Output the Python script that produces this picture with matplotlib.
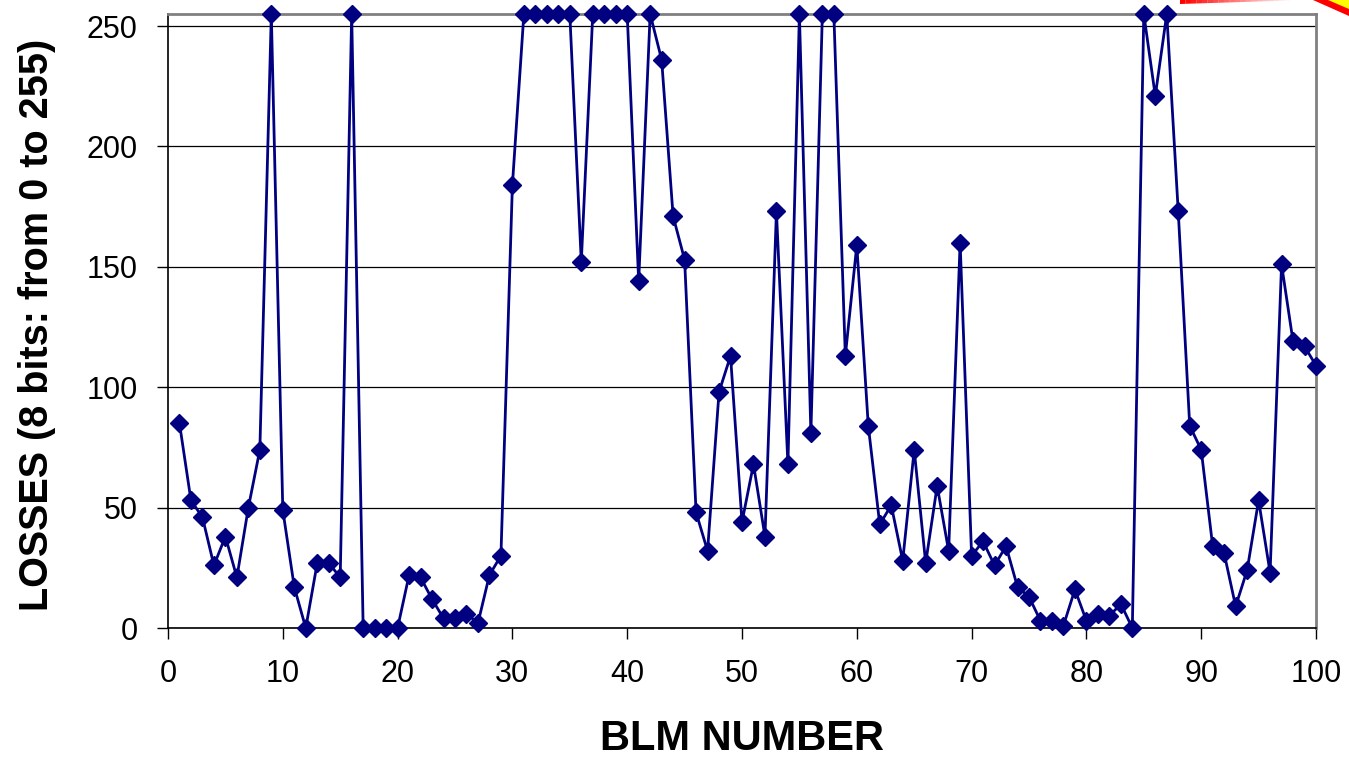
import matplotlib
matplotlib.use("Agg")
import matplotlib.pyplot as plt
import numpy as np
from matplotlib.patches import Polygon

blm_number = list(range(1, 101))
losses = [
    85, 53, 46, 26, 38, 21, 50, 74, 255, 49,
    17, 0, 27, 27, 21, 255, 0, 0, 0, 0,
    22, 21, 12, 4, 4, 6, 2, 22, 30, 184,
    255, 255, 255, 255, 255, 152, 255, 255, 255, 255,
    144, 255, 236, 171, 153, 48, 32, 98, 113, 44,
    68, 38, 173, 68, 255, 81, 255, 255, 113, 159,
    84, 43, 51, 28, 74, 27, 59, 32, 160, 30,
    36, 26, 34, 17, 13, 3, 3, 1, 16, 3,
    6, 5, 10, 0, 255, 221, 255, 173, 84, 74,
    34, 31, 9, 24, 53, 23, 151, 119, 117, 109,
]
x_ticks = list(range(0, 101, 10))
y_ticks = list(range(0, 251, 50))

plt.rcParams['font.family'] = ['Liberation Sans', 'DejaVu Sans']

W, H = 1349, 768
fig = plt.figure(figsize=(W / 100, H / 100), dpi=100)
ax = fig.add_axes([168 / W, 1 - 628 / H, (1316 - 168) / W, (628 - 14) / H])

ax.set_xlim(0, 100)
ax.set_ylim(0, 255)
ax.set_xticks(x_ticks)
ax.set_yticks(y_ticks)
ax.yaxis.grid(True, color='black', linewidth=0.9)
ax.set_axisbelow(True)

ax.plot(blm_number, losses, color='#000080', linewidth=2.0, marker='D',
        markersize=9.5, markerfacecolor='#000080', markeredgecolor='#000080',
        clip_on=False, zorder=5)

for side in ['top', 'right']:
    ax.spines[side].set_color('#808080')
    ax.spines[side].set_linewidth(2.0)
for side in ['left', 'bottom']:
    ax.spines[side].set_color('black')
    ax.spines[side].set_linewidth(1.2)

ax.tick_params(axis='both', direction='out', length=8, width=1.0, color='black',
               labelsize=22)
ax.tick_params(axis='y', pad=14)
ax.tick_params(axis='x', pad=14)

ax.set_xlabel('BLM NUMBER', fontsize=30, fontweight='bold', labelpad=22)
ax.set_ylabel('LOSSES (8 bits: from 0 to 255)', fontsize=28.5, fontweight='bold')
ax.yaxis.set_label_coords(-(168 - 56) / (1316 - 168), (628 - 325) / (628 - 14))

# decorative red/yellow arrow fragment at the top-right corner
def figpoly(pts, **kw):
    p = Polygon([(x / W, 1 - y / H) for x, y in pts], closed=True,
                transform=fig.transFigure, **kw)
    fig.patches.append(p)

n = 20
for i in range(n):
    x0 = 1180 + i * 5.5
    x1 = x0 + 5.5
    t0 = 4 - 3.5 * i / n
    t1 = 4 - 3.5 * (i + 1) / n
    figpoly([(x0, 0), (x1, 0), (x1, t1), (x0, t0)], facecolor='red',
            edgecolor='none', alpha=max(0.0, 1 - i / n))
figpoly([(1313, 0), (1349, 0), (1349, 16)], facecolor='red', edgecolor='none')
figpoly([(1328, 0), (1349, 0), (1349, 9)], facecolor='#ffff00', edgecolor='none')

fig.savefig('out.png', dpi=100)
